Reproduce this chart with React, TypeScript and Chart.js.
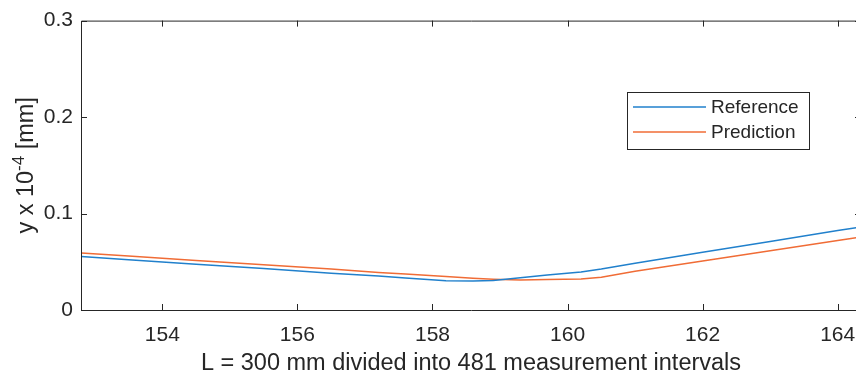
import React, { useEffect, useRef } from 'react';
import { Chart, registerables } from 'chart.js';

Chart.register(...registerables);

// Data
const xPositions = [152.8, 153.5, 154.5, 155.5, 156.5, 157.2, 157.6, 158.2, 158.6, 158.9, 159.3, 159.7, 160.2, 160.5, 161.0, 162.0, 163.0, 164.0, 164.35];
const referenceValues = [0.0555, 0.0522, 0.0475, 0.0429, 0.0382, 0.0353, 0.0332, 0.0302, 0.0300, 0.0305, 0.0335, 0.0362, 0.0395, 0.0425, 0.0485, 0.0598, 0.0710, 0.0823, 0.0862];
const predictionValues = [0.0590, 0.0559, 0.0514, 0.0469, 0.0424, 0.0390, 0.0372, 0.0347, 0.0328, 0.0318, 0.0310, 0.0315, 0.0322, 0.0340, 0.0402, 0.0508, 0.0615, 0.0721, 0.0758];
const seriesNames = ['Reference', 'Prediction'];
const xTicks = [154, 156, 158, 160, 162, 164];
const yTicks = [0, 0.1, 0.2, 0.3];
const xMin = 152.796;
const xMax = 164.345;
const yMin = 0;
const yMax = 0.3;
const xTitle = 'L = 300 mm divided into 481 measurement intervals';
const yTitleBase = 'y x 10';
const yTitleExp = '-4';
const yTitleUnit = ' [mm]';

const AXIS_COLOR = '#262626';
const BLUE = '#2180cc';
const ORANGE = '#f06c36';
const FONT = "'Liberation Sans', Arial, Helvetica, sans-serif";
const TICK_SIZE = 21;
const TITLE_SIZE = 23.5;
const LEGEND_SIZE = 19;

const decoPlugin = {
  id: 'matlabDeco',
  afterDraw(chart: any) {
    const { ctx, chartArea } = chart;
    const { left, right, top, bottom } = chartArea;
    const xs = chart.scales.x;
    const ys = chart.scales.y;
    ctx.save();
    ctx.strokeStyle = AXIS_COLOR;
    ctx.lineWidth = 1;
    // box
    ctx.beginPath();
    ctx.moveTo(left + 0.5, bottom + 0.5);
    ctx.lineTo(left + 0.5, top + 0.5);
    ctx.lineTo(right + 0.5, top + 0.5);
    ctx.lineTo(right + 0.5, bottom + 0.5);
    ctx.closePath();
    ctx.stroke();
    // inward ticks
    const tl = 6;
    ctx.beginPath();
    for (const v of xTicks) {
      const px = Math.round(xs.getPixelForValue(v)) + 0.5;
      ctx.moveTo(px, bottom);
      ctx.lineTo(px, bottom - tl);
      ctx.moveTo(px, top);
      ctx.lineTo(px, top + tl);
    }
    for (const v of yTicks) {
      const py = Math.round(ys.getPixelForValue(v)) + 0.5;
      ctx.moveTo(left, py);
      ctx.lineTo(left + tl, py);
      ctx.moveTo(right, py);
      ctx.lineTo(right - tl, py);
    }
    ctx.stroke();

    // y title with superscript
    ctx.fillStyle = AXIS_COLOR;
    ctx.translate(33, (top + bottom) / 2);
    ctx.rotate(-Math.PI / 2);
    ctx.textBaseline = 'alphabetic';
    const mainFont = `${TITLE_SIZE}px ${FONT}`;
    const expFont = `17px ${FONT}`;
    ctx.font = mainFont;
    const w1 = ctx.measureText(yTitleBase).width;
    const w3 = ctx.measureText(yTitleUnit).width;
    ctx.font = expFont;
    const w2 = ctx.measureText(yTitleExp).width;
    const total = w1 + w2 + w3;
    let cx = -total / 2;
    ctx.textAlign = 'left';
    ctx.font = mainFont;
    ctx.fillText(yTitleBase, cx, 0);
    cx += w1;
    ctx.font = expFont;
    ctx.fillText(yTitleExp, cx, -9);
    cx += w2;
    ctx.font = mainFont;
    ctx.fillText(yTitleUnit, cx, 0);
    ctx.restore();

    // legend
    ctx.save();
    const lx = 627, ly = 92, lw = 182, lh = 57;
    ctx.fillStyle = '#ffffff';
    ctx.fillRect(lx, ly, lw, lh);
    ctx.strokeStyle = AXIS_COLOR;
    ctx.lineWidth = 1;
    ctx.strokeRect(lx + 0.5, ly + 0.5, lw, lh);
    const rows = [
      { name: seriesNames[0], color: BLUE, y: 107 },
      { name: seriesNames[1], color: ORANGE, y: 132 },
    ];
    ctx.font = `${LEGEND_SIZE}px ${FONT}`;
    ctx.textBaseline = 'middle';
    ctx.textAlign = 'left';
    for (const r of rows) {
      ctx.strokeStyle = r.color;
      ctx.lineWidth = 1.5;
      ctx.beginPath();
      ctx.moveTo(633, r.y);
      ctx.lineTo(706, r.y);
      ctx.stroke();
      ctx.fillStyle = AXIS_COLOR;
      ctx.fillText(r.name, 711, r.y + 1);
    }
    ctx.restore();
  },
};

export default function App() {
  const canvasRef = useRef<HTMLCanvasElement | null>(null);

  useEffect(() => {
    const canvas = canvasRef.current;
    if (!canvas) return;
    const chart = new Chart(canvas, {
      type: 'line',
      data: {
        datasets: [
          {
            label: seriesNames[0],
            data: xPositions.map((x, i) => ({ x, y: referenceValues[i] })),
            borderColor: BLUE,
            backgroundColor: BLUE,
            borderWidth: 1.5,
            pointRadius: 0,
            tension: 0,
          },
          {
            label: seriesNames[1],
            data: xPositions.map((x, i) => ({ x, y: predictionValues[i] })),
            borderColor: ORANGE,
            backgroundColor: ORANGE,
            borderWidth: 1.5,
            pointRadius: 0,
            tension: 0,
          },
        ],
      },
      options: {
        responsive: false,
        animation: false,
        layout: { padding: { top: 18, right: 5, left: 0, bottom: 0 } },
        plugins: {
          legend: { display: false },
          tooltip: { enabled: false },
        },
        scales: {
          x: {
            type: 'linear',
            min: xMin,
            max: xMax,
            grid: { display: false, drawTicks: false },
            border: { display: false },
            afterBuildTicks: (s: any) => {
              s.ticks = xTicks.map((value) => ({ value }));
            },
            afterFit: (s: any) => {
              s.height = 66;
              s.paddingLeft = 0;
              s.paddingRight = 0;
            },
            ticks: {
              color: AXIS_COLOR,
              font: { family: FONT, size: TICK_SIZE },
              padding: 13,
              maxRotation: 0,
              autoSkip: false,
              callback: (v: any) => String(v),
            },
            title: {
              display: true,
              text: xTitle,
              color: AXIS_COLOR,
              font: { family: FONT, size: TITLE_SIZE },
              padding: { top: 0, bottom: -2 },
            },
          },
          y: {
            type: 'linear',
            min: yMin,
            max: yMax,
            grid: { display: false, drawTicks: false },
            border: { display: false },
            afterBuildTicks: (s: any) => {
              s.ticks = yTicks.map((value) => ({ value }));
            },
            afterFit: (s: any) => {
              s.width = 81;
            },
            ticks: {
              color: AXIS_COLOR,
              font: { family: FONT, size: TICK_SIZE },
              padding: 8,
              callback: (v: any) => (v === 0 ? '0' : Number(v).toFixed(1)),
            },
          },
        },
      },
      plugins: [decoPlugin],
    });
    return () => chart.destroy();
  }, []);

  return (
    <div style={{ position: 'absolute', left: 0, top: 0, width: 856, height: 376, overflow: 'hidden', background: '#ffffff' }}>
      <canvas ref={canvasRef} width={866} height={376} style={{ display: 'block' }} />
    </div>
  );
}
